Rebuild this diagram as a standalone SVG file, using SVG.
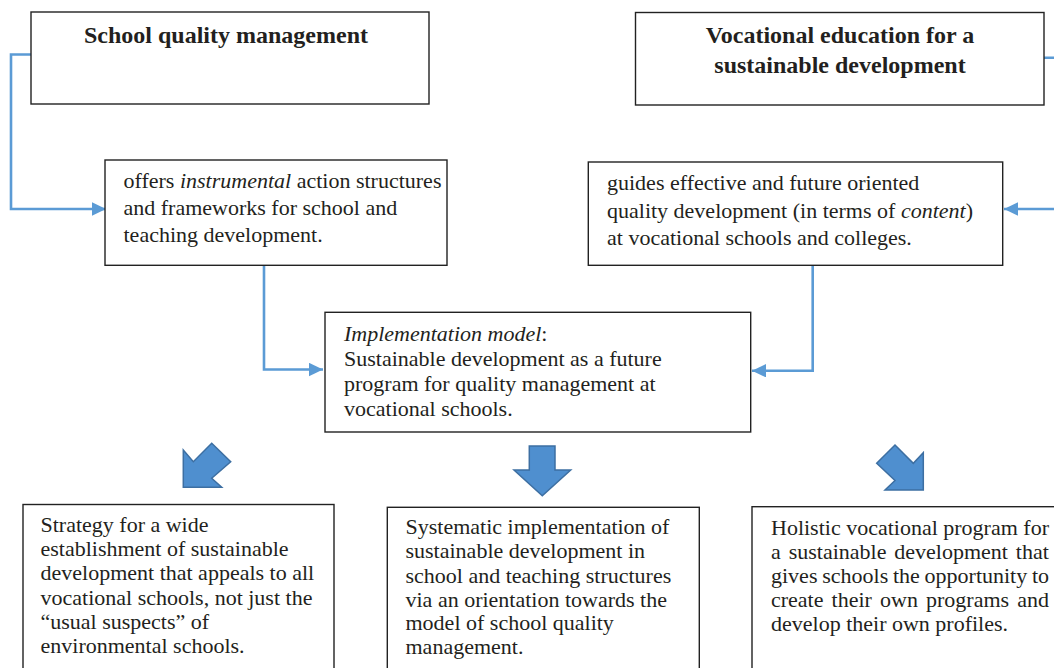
<svg xmlns="http://www.w3.org/2000/svg" width="1054" height="668" viewBox="0 0 1054 668">
<style>
.box{fill:#fff;stroke:#222;stroke-width:1.4}
.t{font-family:"Liberation Serif","Times New Roman",serif;font-size:22px;fill:#231f20}
.tb{font-family:"Liberation Serif","Times New Roman",serif;font-size:24px;font-weight:bold;fill:#231f20;text-anchor:middle}
.con{fill:none;stroke:#5b9bd5;stroke-width:2.6}
.blk{fill:#4f8fcf;stroke:#3d6fa2;stroke-width:1.5;stroke-linejoin:miter}
</style>
<defs>
<marker id="ah" markerUnits="userSpaceOnUse" markerWidth="15" markerHeight="14" refX="14" refY="6.7" orient="auto">
<path d="M0,0 L14,6.7 L0,13.4 z" fill="#5b9bd5"/>
</marker>
</defs>
<rect width="1054" height="668" fill="#fff"/>
<g id="connectors">
<path class="con" d="M31,54.5 H11 V209 H106" marker-end="url(#ah)"/>
<path class="con" d="M1044,57.7 H1062 V209 H1004" marker-end="url(#ah)"/>
<path class="con" d="M264,265.5 V369.5 H323" marker-end="url(#ah)"/>
<path class="con" d="M812.7,265.5 V370.7 H752" marker-end="url(#ah)"/>
<polygon class="blk" points="211.7,443.3 230.7,461.7 211.7,478.3 221.7,487.3 183.3,487.3 183.3,450 193.3,461.7"/>
<polygon class="blk" points="529.3,446 555,446 555,470 570.7,470 542.3,495.7 514,470 529.3,470"/>
<polygon class="blk" points="895,445 913.3,463.3 923.3,452.7 923.3,490 885,490 895,480.5 876.7,463.3"/>
</g>
<g id="n1">
<rect class="box" x="31" y="12" width="398" height="92"/>
<text class="tb" x="226" y="43">School quality management</text>
</g>
<g id="n2">
<rect class="box" x="635.5" y="12.5" width="408.5" height="92.5"/>
<text class="tb" x="840" y="43">Vocational education for a</text>
<text class="tb" x="840" y="73">sustainable development</text>
</g>
<g id="n3">
<rect class="box" x="105" y="160" width="342" height="105.3"/>
<text class="t" x="123.5" y="188">offers <tspan font-style="italic">instrumental</tspan> action structures</text>
<text class="t" x="123.5" y="215">and frameworks for school and</text>
<text class="t" x="123.5" y="242">teaching development.</text>
</g>
<g id="n4">
<rect class="box" x="588.3" y="162" width="414.4" height="103.3"/>
<text class="t" x="607" y="190">guides effective and future oriented</text>
<text class="t" x="607" y="217.5">quality development (in terms of <tspan font-style="italic">content</tspan>)</text>
<text class="t" x="607" y="245">at vocational schools and colleges.</text>
</g>
<g id="n5">
<rect class="box" x="325" y="312.3" width="425.7" height="119.7"/>
<text class="t" x="344" y="341"><tspan font-style="italic">Implementation model</tspan>:</text>
<text class="t" x="344" y="366">Sustainable development as a future</text>
<text class="t" x="344" y="391">program for quality management at</text>
<text class="t" x="344" y="416">vocational schools.</text>
</g>
<g id="n6">
<rect class="box" x="23" y="504.5" width="311" height="175"/>
<text class="t" x="40.5" y="531.5">Strategy for a wide</text>
<text class="t" x="40.5" y="556">establishment of sustainable</text>
<text class="t" x="40.5" y="580">development that appeals to all</text>
<text class="t" x="40.5" y="605">vocational schools, not just the</text>
<text class="t" x="40.5" y="629">“usual suspects” of</text>
<text class="t" x="40.5" y="653">environmental schools.</text>
</g>
<g id="n7">
<rect class="box" x="387.3" y="507.3" width="312" height="175"/>
<text class="t" x="405.5" y="534">Systematic implementation of</text>
<text class="t" x="405.5" y="558">sustainable development in</text>
<text class="t" x="405.5" y="583">school and teaching structures</text>
<text class="t" x="405.5" y="607">via an orientation towards the</text>
<text class="t" x="405.5" y="630">model of school quality</text>
<text class="t" x="405.5" y="654">management.</text>
</g>
<g id="n8">
<rect class="box" x="752" y="506.7" width="320" height="175"/>
<text class="t" x="771" y="535" word-spacing="0">Holistic vocational program for</text>
<text class="t" x="771" y="559" word-spacing="2.4">a sustainable development that</text>
<text class="t" x="771" y="583" word-spacing="-0.75">gives schools the opportunity to</text>
<text class="t" x="771" y="607" word-spacing="2.6">create their own programs and</text>
<text class="t" x="771" y="631">develop their own profiles.</text>
</g>
</svg>
